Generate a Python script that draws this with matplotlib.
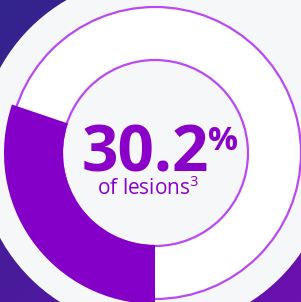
import numpy as np
import matplotlib
matplotlib.use("Agg")
import matplotlib.pyplot as plt
from matplotlib.patches import Circle, Wedge, Rectangle
from matplotlib.colors import LinearSegmentedColormap

plt.rcParams["mathtext.fontset"] = "custom"
plt.rcParams["mathtext.rm"] = "Open Sans"
plt.rcParams["mathtext.it"] = "Open Sans"

# Dato del gráfico
porcentaje = 30.2
etiqueta_valor = "30.2"
etiqueta_texto = "of lesions"
superindice = "3"

W, H = 301, 302
CX, CY = 155, 302 - 153

fig = plt.figure(figsize=(W / 100, H / 100), dpi=100)
ax = fig.add_axes([0, 0, 1, 1])
ax.set_xlim(0, W)
ax.set_ylim(0, H)
ax.set_aspect("equal")
ax.axis("off")

# Fondo degradado morado oscuro (arriba-izquierda oscuro, abajo-derecha violeta)
cmap = LinearSegmentedColormap.from_list("fondo", ["#33248c", "#4a1b9c", "#6c10b0"])
gx, gy = np.meshgrid(np.linspace(0, 1, 200), np.linspace(0, 1, 200))
grad = (gx + gy) / 2
ax.imshow(grad, cmap=cmap, extent=[0, W, 0, H], origin="upper", zorder=0)

# Fondo gris claro
gris = "#f6f7f8"
ax.add_patch(Circle((CX, CY), 176, color=gris, zorder=1))
ax.add_patch(Rectangle((CX, CY), W - CX + 2, H - CY + 2, color=gris, zorder=1))

# Anillo blanco y círculos finos
ax.add_patch(Circle((CX, CY), 146, color="white", zorder=2))
ax.add_patch(Circle((CX, CY), 93, color=gris, zorder=3))
linea = "#b94af2"
ax.add_patch(Circle((CX, CY), 146, fill=False, ec=linea, lw=1.6, zorder=4))
ax.add_patch(Circle((CX, CY), 93, fill=False, ec=linea, lw=1.6, zorder=4))

# Sector de porcentaje
span = 360 * porcentaje / 100
ax.add_patch(Wedge((CX, CY), 151, 270 - span, 270, width=151 - 92,
                   color="#8400c8", lw=0, zorder=5))

morado = "#8a00c8"
ax.text(145, 302 - 172, etiqueta_valor, fontsize=46, fontweight="bold",
        family="Open Sans", color=morado, ha="center", va="baseline", zorder=6)
ax.text(208, 302 - 150, "%", fontsize=24, fontweight="bold",
        family="Open Sans", color=morado, ha="left", va="baseline", zorder=6)
ax.text(148, 302 - 195, etiqueta_texto + "$^{" + superindice + "}$", fontsize=15,
        family="Open Sans", color=morado, ha="center", va="baseline", zorder=6)

fig.savefig("out.png", dpi=100)
